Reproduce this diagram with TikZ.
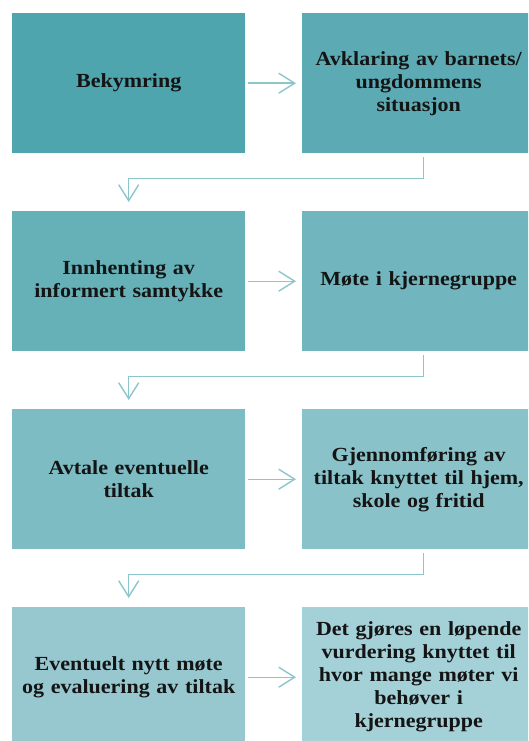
\documentclass[tikz,border=0pt]{standalone}
\usepackage{fontspec}
\setmainfont{Liberation Serif}[FakeStretch=1.1]
\usetikzlibrary{arrows.meta}
\definecolor{c1}{HTML}{4FA5AE}
\definecolor{c2}{HTML}{5CABB4}
\definecolor{c3}{HTML}{66B0B8}
\definecolor{c4}{HTML}{71B6BE}
\definecolor{c5}{HTML}{7DBCC3}
\definecolor{c6}{HTML}{89C2C9}
\definecolor{c7}{HTML}{97C8CF}
\definecolor{c8}{HTML}{A4D0D7}
\definecolor{lk}{HTML}{8CC6CD}
\definecolor{tx}{HTML}{141414}
\begin{document}
\begin{tikzpicture}[x=1pt,y=-1pt,
  box/.style={anchor=north west,minimum width=233pt,minimum height=140pt,inner sep=0pt,
    text width=228pt,align=center,text=tx,font=\bfseries\fontsize{20}{23}\selectfont},
  tip/.style={-{Straight Barb[length=16pt,width=20pt,line width=1.4pt]}},
  link/.style={draw=lk,line width=1.4pt,tip},
  elbow/.style={draw=lk,line width=1.4pt,tip}]
\useasboundingbox (0,0) rectangle (528,741);
\clip (0,0) rectangle (528,741);
\node[box,fill=c1] (b1) at (12,13) {Bekymring};
\node[box,fill=c2,minimum width=242pt] (b2) at (302,13) {\hspace*{-9pt}Avklaring av barnets/\\\hspace*{-9pt}ungdommens\\\hspace*{-9pt}situasjon};
\node[box,fill=c3] (b3) at (12,211) {Innhenting av\\informert samtykke};
\node[box,fill=c4,minimum width=242pt] (b4) at (302,211) {\hspace*{-9pt}Møte i kjernegruppe};
\node[box,fill=c5] (b5) at (12,409) {Avtale eventuelle\\tiltak};
\node[box,fill=c6,minimum width=242pt] (b6) at (302,409) {\hspace*{-9pt}Gjennomføring av\\\hspace*{-9pt}tiltak knyttet til hjem,\\\hspace*{-9pt}skole og fritid};
\node[box,fill=c7] (b7) at (12,607) {Eventuelt nytt møte\\og evaluering av tiltak};
\node[box,fill=c8,minimum width=242pt] (b8) at (302,607) {\hspace*{-9pt}Det gjøres en løpende\\\hspace*{-9pt}vurdering knyttet til\\\hspace*{-9pt}hvor mange møter vi\\\hspace*{-9pt}behøver i\\\hspace*{-9pt}kjernegruppe};
\draw[link,shorten <=3pt,shorten >=6pt] (b1.east) -- (b2.west);
\draw[link,shorten <=3pt,shorten >=6pt] (b3.east) -- (b4.west);
\draw[link,shorten <=3pt,shorten >=6pt] (b5.east) -- (b6.west);
\draw[link,shorten <=3pt,shorten >=6pt] (b7.east) -- (b8.west);
\draw[elbow,shorten <=4pt,shorten >=9pt] (b2.south) -- ++(0,25) -| (b3.north);
\draw[elbow,shorten <=4pt,shorten >=9pt] (b4.south) -- ++(0,25) -| (b5.north);
\draw[elbow,shorten <=4pt,shorten >=9pt] (b6.south) -- ++(0,25) -| (b7.north);
\end{tikzpicture}
\end{document}
